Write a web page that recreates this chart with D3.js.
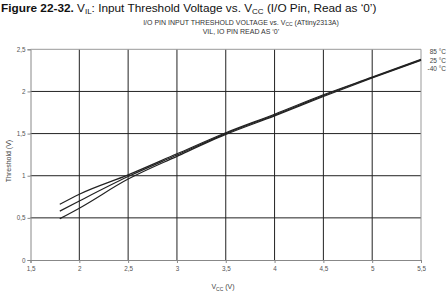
<!DOCTYPE html>
<html>
<head>
<meta charset="utf-8">
<script src="https://cdn.jsdelivr.net/npm/d3@7"></script>
<style>
  html, body { margin: 0; padding: 0; background: #fff; }
  svg { display: block; font-family: "Liberation Sans", Arial, sans-serif; }
</style>
</head>
<body>
<svg id="chart" width="448" height="292"></svg>
<script>
// VIL vs Vcc, tres temperaturas
const vcc = [1.8, 2.0, 2.5, 3.0, 3.5, 4.0, 4.5, 5.0, 5.5];
const v85 = [0.66, 0.78, 1.01, 1.26, 1.51, 1.73, 1.96, 2.17, 2.38];
const v25 = [0.58, 0.70, 0.99, 1.245, 1.50, 1.72, 1.95, 2.165, 2.375];
const vm40 = [0.49, 0.615, 0.96, 1.23, 1.49, 1.71, 1.94, 2.16, 2.37];
const seriesNames = ['85 °C', '25 °C', '-40 °C'];
const xTicks = [1.5, 2, 2.5, 3, 3.5, 4, 4.5, 5, 5.5];
const yTicks = [0, 0.5, 1, 1.5, 2, 2.5];

const svg = d3.select('#chart');
const L = 30.5, R = 421, T = 49.3, B = 260;
const x = d3.scaleLinear().domain([1.5, 5.5]).range([L, R]);
const y = d3.scaleLinear().domain([0, 2.5]).range([B, T]);
const fmt = d => String(d).replace('.', ',');

// titulo
const title = svg.append('text').attr('x', 1).attr('y', 12).attr('font-size', 11.8).attr('fill', '#111');
title.append('tspan').attr('font-weight', 'bold').text('Figure 22-32.');
title.append('tspan').text(' V');
title.append('tspan').attr('font-size', 8).attr('dy', 2).text('IL');
title.append('tspan').attr('dy', -2).text(': Input Threshold Voltage vs. V');
title.append('tspan').attr('font-size', 8).attr('dy', 2).text('CC');
title.append('tspan').attr('dy', -2).text(' (I/O Pin, Read as \u20180\u2019)');

const sub1 = svg.append('text').attr('x', 241).attr('y', 24.5).attr('text-anchor', 'middle')
  .attr('font-size', 7).attr('fill', '#333');
sub1.append('tspan').text('I/O PIN INPUT THRESHOLD VOLTAGE vs. V');
sub1.append('tspan').attr('font-size', 5).attr('dy', 1).text('CC');
sub1.append('tspan').attr('dy', -1).text('  (ATtiny2313A)');
svg.append('text').attr('x', 241).attr('y', 34).attr('text-anchor', 'middle')
  .attr('font-size', 7).attr('fill', '#333').text('VIL, IO PIN READ AS \u20180\u2019');

// grilla
svg.append('g').selectAll('line').data(yTicks.filter(d => d > 0 && d < 2.5)).join('line')
  .attr('x1', L).attr('x2', R).attr('y1', d => y(d)).attr('y2', d => y(d))
  .attr('stroke', '#222').attr('stroke-width', 1);
svg.append('g').selectAll('line').data(xTicks.filter(d => d > 1.5 && d < 5.5)).join('line')
  .attr('y1', T).attr('y2', B).attr('x1', d => x(d)).attr('x2', d => x(d))
  .attr('stroke', '#222').attr('stroke-width', 1);
// borde superior y derecho
svg.append('line').attr('x1', L).attr('x2', R).attr('y1', T).attr('y2', T).attr('stroke', '#999');
svg.append('line').attr('x1', R).attr('x2', R).attr('y1', T).attr('y2', B).attr('stroke', '#999');

// ejes
const yAxis = svg.append('g').attr('transform', `translate(${L},0)`)
  .call(d3.axisLeft(y).tickValues(yTicks).tickFormat(fmt).tickSize(3).tickPadding(2));
const xAxis = svg.append('g').attr('transform', `translate(0,${B})`)
  .call(d3.axisBottom(x).tickValues(xTicks).tickFormat(fmt).tickSize(3).tickPadding(4));
[yAxis, xAxis].forEach(g => {
  g.select('.domain').attr('stroke', '#888');
  g.selectAll('.tick line').attr('stroke', '#888');
  g.selectAll('.tick text').attr('fill', '#555').attr('font-size', 6.3)
    .attr('font-family', '"Liberation Sans", Arial, sans-serif');
});

// titulos de ejes
svg.append('text').attr('transform', 'translate(11,161) rotate(-90)').attr('text-anchor', 'middle')
  .attr('font-size', 7).attr('fill', '#444').text('Threshold (V)');
const xt = svg.append('text').attr('x', 223).attr('y', 289).attr('text-anchor', 'middle')
  .attr('font-size', 7).attr('fill', '#444');
xt.append('tspan').text('V');
xt.append('tspan').attr('font-size', 5).attr('dy', 1.5).text('CC');
xt.append('tspan').attr('dy', -1.5).text(' (V)');

// curvas
const line = d3.line().x((d, i) => x(vcc[i])).y(d => y(d)).curve(d3.curveMonotoneX);
svg.append('g').selectAll('path').data([v85, v25, vm40]).join('path')
  .attr('d', line).attr('fill', 'none').attr('stroke', '#222').attr('stroke-width', 1.2);

// leyenda
svg.append('g').selectAll('text').data(seriesNames).join('text')
  .attr('x', 446).attr('y', (d, i) => 54 + i * 8.7).attr('text-anchor', 'end')
  .attr('font-size', 6.5).attr('fill', '#444').text(d => d);
</script>
</body>
</html>
